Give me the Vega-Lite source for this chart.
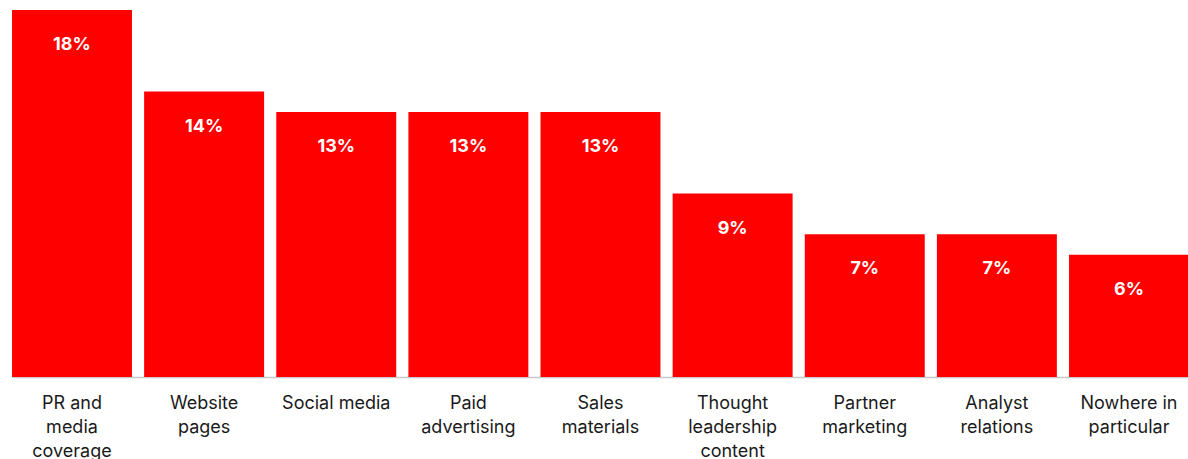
{
  "$schema": "https://vega.github.io/schema/vega-lite/v6.json",
  "width": 1177,
  "height": 367,
  "padding": {"left": 11, "top": 10, "right": 0, "bottom": 0},
  "background": "white",
  "config": {"view": {"stroke": null}, "font": "Inter"},
  "data": {
    "values": [
      {"channel": "PR and|media|coverage", "share": 0.18},
      {"channel": "Website|pages", "share": 0.14},
      {"channel": "Social media", "share": 0.13},
      {"channel": "Paid|advertising", "share": 0.13},
      {"channel": "Sales|materials", "share": 0.13},
      {"channel": "Thought|leadership|content", "share": 0.09},
      {"channel": "Partner|marketing", "share": 0.07},
      {"channel": "Analyst|relations", "share": 0.07},
      {"channel": "Nowhere in|particular", "share": 0.06}
    ]
  },
  "encoding": {
    "x": {
      "field": "channel",
      "type": "nominal",
      "sort": null,
      "scale": {"paddingInner": 0.092, "paddingOuter": 0.0},
      "axis": {
        "title": null,
        "labelAngle": 0,
        "labelExpr": "split(datum.label, '|')",
        "labelFont": "Inter",
        "labelFontSize": 18,
        "labelColor": "#1a1a1a",
        "labelLineHeight": 24,
        "labelPadding": 17,
        "labelBaseline": "top",
        "ticks": false,
        "domainColor": "#c8c8c8",
        "domainWidth": 1.5
      }
    },
    "y": {
      "field": "share",
      "type": "quantitative",
      "scale": {"domain": [0, 0.18], "nice": false},
      "axis": null
    }
  },
  "layer": [
    {"mark": {"type": "bar", "color": "#ff0000"}},
    {
      "mark": {
        "type": "text",
        "color": "white",
        "fontWeight": "bold",
        "fontSize": 18,
        "baseline": "middle",
        "dy": 35
      },
      "encoding": {"text": {"field": "share", "type": "quantitative", "format": ".0%"}}
    }
  ]
}
